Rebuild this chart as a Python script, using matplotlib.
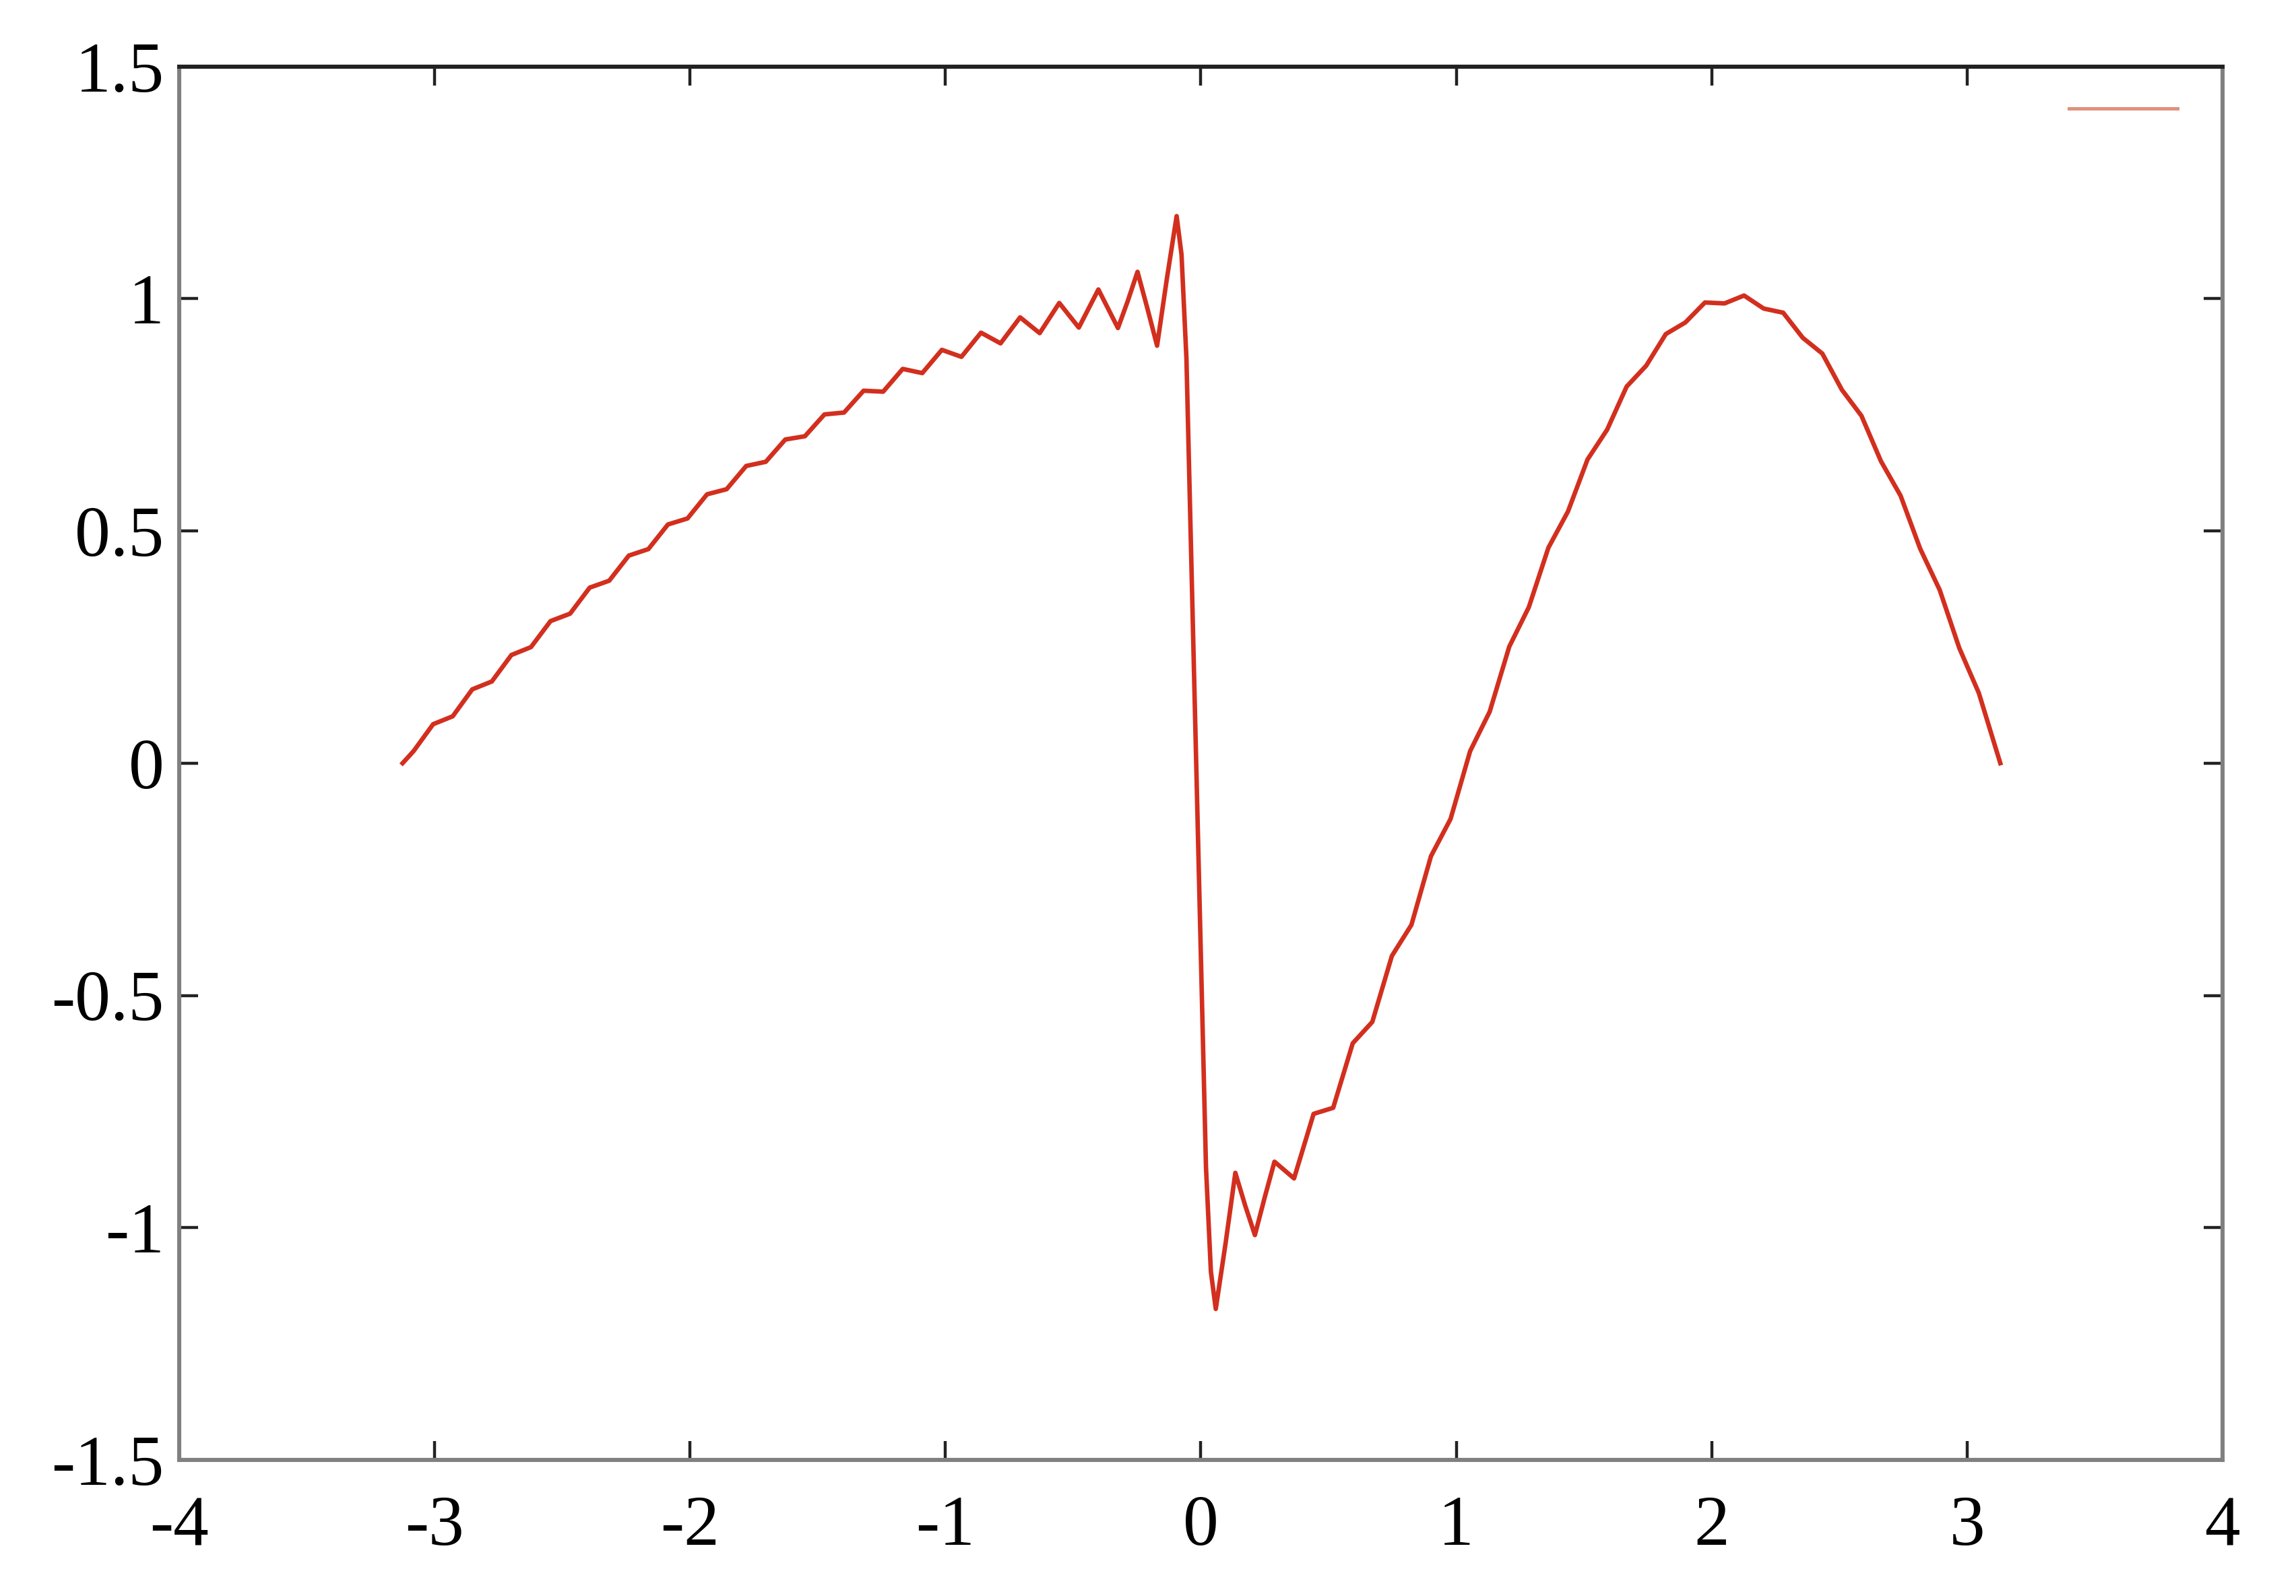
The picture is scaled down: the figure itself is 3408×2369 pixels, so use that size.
import matplotlib.pyplot as plt
from matplotlib.lines import Line2D

# points (left branch, right to left, then right branch)
x_left = [-0.018, -0.0563, -0.0755, -0.0946, -0.1329, -0.1712, -0.2095, -0.2478,
          -0.2861, -0.3244, -0.4010, -0.4776, -0.5542, -0.6308, -0.7074, -0.7840,
          -0.8606, -0.9372, -1.0138, -1.0904, -1.1670, -1.2436, -1.3202, -1.3968,
          -1.4734, -1.5500, -1.6266, -1.7032, -1.7798, -1.8564, -1.9330, -2.0096,
          -2.0862, -2.1628, -2.2394, -2.3160, -2.3926, -2.4692, -2.5458, -2.6224,
          -2.6990, -2.7756, -2.8522, -2.9288, -3.0054, -3.0820, -3.125]
y_left = [0.0, 0.872, 1.095, 1.178, 1.043, 0.899, 0.980, 1.058,
          0.995, 0.937, 1.020, 0.938, 0.991, 0.926, 0.960, 0.904,
          0.927, 0.875, 0.890, 0.840, 0.849, 0.800, 0.802, 0.755,
          0.751, 0.704, 0.697, 0.649, 0.640, 0.590, 0.579, 0.527,
          0.514, 0.461, 0.447, 0.393, 0.378, 0.322, 0.306, 0.250,
          0.233, 0.176, 0.159, 0.101, 0.084, 0.026, 0.0]

x_right = [-0.018, 0.0203, 0.0395, 0.0586, 0.0969, 0.1352, 0.1735, 0.2118,
           0.2501, 0.2884, 0.3650, 0.4416, 0.5182, 0.5948, 0.6714, 0.7480,
           0.8246, 0.9012, 0.9778, 1.0544, 1.1310, 1.2076, 1.2842, 1.3608,
           1.4374, 1.5140, 1.5906, 1.6672, 1.7438, 1.8204, 1.8970, 1.9736,
           2.0502, 2.1268, 2.2034, 2.2800, 2.3566, 2.4332, 2.5098, 2.5864,
           2.6630, 2.7396, 2.8162, 2.8928, 2.9694, 3.0460, 3.130]
y_right = [0.0, -0.870, -1.095, -1.175, -1.034, -0.882, -0.952, -1.016,
           -0.935, -0.858, -0.894, -0.755, -0.742, -0.603, -0.557, -0.415,
           -0.348, -0.200, -0.120, 0.026, 0.111, 0.251, 0.336, 0.464,
           0.542, 0.654, 0.718, 0.811, 0.856, 0.924, 0.949, 0.992,
           0.990, 1.007, 0.979, 0.970, 0.916, 0.882, 0.804, 0.748,
           0.650, 0.576, 0.462, 0.373, 0.248, 0.151, 0.0]

x_ticks = [-4, -3, -2, -1, 0, 1, 2, 3, 4]
y_ticks = [-1.5, -1, -0.5, 0, 0.5, 1, 1.5]
y_ticklabels = ['-1.5', '-1', '-0.5', '0', '0.5', '1', '1.5']

plt.rcParams['font.family'] = ['Liberation Serif', 'DejaVu Serif']
plt.rcParams['axes.unicode_minus'] = False

fig = plt.figure(figsize=(17.04, 11.845), dpi=200)
ax = fig.add_axes([0.078, 0.0853, 0.890, 0.873])

xs = x_left[::-1] + x_right
ys = y_left[::-1] + y_right
ax.plot(xs, ys, color='#d22f1e', linewidth=2.4, solid_joinstyle='round')

ax.set_xlim(-4, 4)
ax.set_ylim(-1.5, 1.5)
ax.set_xticks(x_ticks)
ax.set_xticklabels([str(v) for v in x_ticks])
ax.set_yticks(y_ticks)
ax.set_yticklabels(y_ticklabels)

ax.tick_params(direction='in', length=10, width=1.6, labelsize=38,
               top=True, right=True, color='#222222')
ax.tick_params(axis='x', pad=19)
ax.tick_params(axis='y', pad=8)

for side in ['left', 'bottom', 'right']:
    ax.spines[side].set_color('#808080')
    ax.spines[side].set_linewidth(2.2)
ax.spines['top'].set_color('#222222')
ax.spines['top'].set_linewidth(2.2)

handle = Line2D([], [], color='#e0907a', linewidth=1.8)
ax.legend([handle], [' '], loc='upper right', frameon=False, fontsize=20,
          handlelength=2.9, handletextpad=0.2, borderaxespad=0.35)

plt.savefig('out.png', dpi=200)
plt.close()
